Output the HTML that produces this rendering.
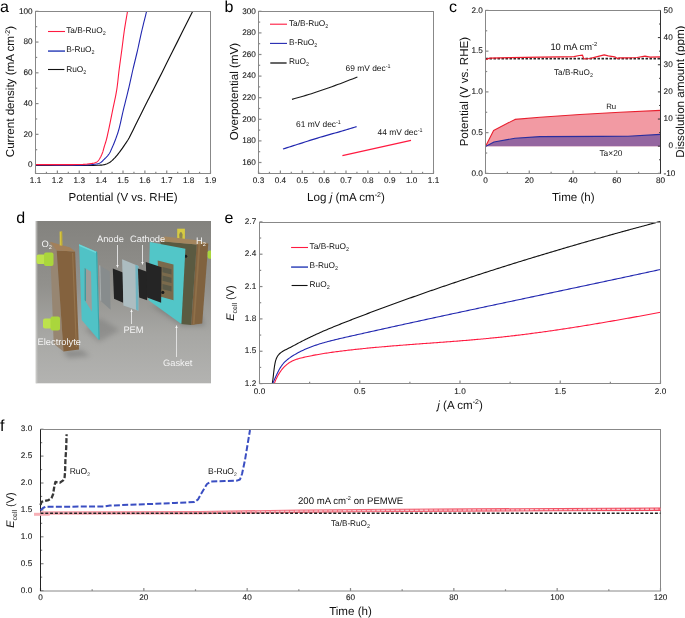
<!DOCTYPE html><html><head><meta charset="utf-8"><style>html,body{margin:0;padding:0;background:#fff;}svg{display:block;will-change:transform}</style></head><body>
<svg width="685" height="618" viewBox="0 0 685 618" text-rendering="geometricPrecision" font-family='"Liberation Sans", sans-serif'>
<rect width="685" height="618" fill="#fff"/>
<text x="0.1" y="12" font-size="16" text-anchor="start" fill="#000" >a</text>
<line x1="35.5" y1="173.5" x2="35.5" y2="170.5" stroke="#888888" stroke-width="1.2" />
<line x1="57.37" y1="173.5" x2="57.37" y2="170.5" stroke="#888888" stroke-width="1.2" />
<line x1="79.25" y1="173.5" x2="79.25" y2="170.5" stroke="#888888" stroke-width="1.2" />
<line x1="101.12" y1="173.5" x2="101.12" y2="170.5" stroke="#888888" stroke-width="1.2" />
<line x1="123" y1="173.5" x2="123" y2="170.5" stroke="#888888" stroke-width="1.2" />
<line x1="144.88" y1="173.5" x2="144.88" y2="170.5" stroke="#888888" stroke-width="1.2" />
<line x1="166.75" y1="173.5" x2="166.75" y2="170.5" stroke="#888888" stroke-width="1.2" />
<line x1="188.62" y1="173.5" x2="188.62" y2="170.5" stroke="#888888" stroke-width="1.2" />
<line x1="210.5" y1="173.5" x2="210.5" y2="170.5" stroke="#888888" stroke-width="1.2" />
<line x1="46.44" y1="173.5" x2="46.44" y2="171.8" stroke="#888888" stroke-width="1.2" />
<line x1="68.31" y1="173.5" x2="68.31" y2="171.8" stroke="#888888" stroke-width="1.2" />
<line x1="90.19" y1="173.5" x2="90.19" y2="171.8" stroke="#888888" stroke-width="1.2" />
<line x1="112.06" y1="173.5" x2="112.06" y2="171.8" stroke="#888888" stroke-width="1.2" />
<line x1="133.94" y1="173.5" x2="133.94" y2="171.8" stroke="#888888" stroke-width="1.2" />
<line x1="155.81" y1="173.5" x2="155.81" y2="171.8" stroke="#888888" stroke-width="1.2" />
<line x1="177.69" y1="173.5" x2="177.69" y2="171.8" stroke="#888888" stroke-width="1.2" />
<line x1="199.56" y1="173.5" x2="199.56" y2="171.8" stroke="#888888" stroke-width="1.2" />
<line x1="35.5" y1="165.1" x2="38.5" y2="165.1" stroke="#888888" stroke-width="1.2" />
<line x1="35.5" y1="134.34" x2="38.5" y2="134.34" stroke="#888888" stroke-width="1.2" />
<line x1="35.5" y1="103.58" x2="38.5" y2="103.58" stroke="#888888" stroke-width="1.2" />
<line x1="35.5" y1="72.82" x2="38.5" y2="72.82" stroke="#888888" stroke-width="1.2" />
<line x1="35.5" y1="42.06" x2="38.5" y2="42.06" stroke="#888888" stroke-width="1.2" />
<line x1="35.5" y1="11.3" x2="38.5" y2="11.3" stroke="#888888" stroke-width="1.2" />
<line x1="35.5" y1="149.72" x2="37.2" y2="149.72" stroke="#888888" stroke-width="1.2" />
<line x1="35.5" y1="118.96" x2="37.2" y2="118.96" stroke="#888888" stroke-width="1.2" />
<line x1="35.5" y1="88.2" x2="37.2" y2="88.2" stroke="#888888" stroke-width="1.2" />
<line x1="35.5" y1="57.44" x2="37.2" y2="57.44" stroke="#888888" stroke-width="1.2" />
<line x1="35.5" y1="26.68" x2="37.2" y2="26.68" stroke="#888888" stroke-width="1.2" />
<text x="35.5" y="182.6" font-size="8.2" text-anchor="middle" fill="#111" stroke="#333" stroke-width="0.1">1.1</text>
<text x="57.37" y="182.6" font-size="8.2" text-anchor="middle" fill="#111" stroke="#333" stroke-width="0.1">1.2</text>
<text x="79.25" y="182.6" font-size="8.2" text-anchor="middle" fill="#111" stroke="#333" stroke-width="0.1">1.3</text>
<text x="101.12" y="182.6" font-size="8.2" text-anchor="middle" fill="#111" stroke="#333" stroke-width="0.1">1.4</text>
<text x="123" y="182.6" font-size="8.2" text-anchor="middle" fill="#111" stroke="#333" stroke-width="0.1">1.5</text>
<text x="144.88" y="182.6" font-size="8.2" text-anchor="middle" fill="#111" stroke="#333" stroke-width="0.1">1.6</text>
<text x="166.75" y="182.6" font-size="8.2" text-anchor="middle" fill="#111" stroke="#333" stroke-width="0.1">1.7</text>
<text x="188.62" y="182.6" font-size="8.2" text-anchor="middle" fill="#111" stroke="#333" stroke-width="0.1">1.8</text>
<text x="210.5" y="182.6" font-size="8.2" text-anchor="middle" fill="#111" stroke="#333" stroke-width="0.1">1.9</text>
<text x="32.6" y="167.3" font-size="8.2" text-anchor="end" fill="#111" stroke="#333" stroke-width="0.1">0</text>
<text x="32.6" y="136.54" font-size="8.2" text-anchor="end" fill="#111" stroke="#333" stroke-width="0.1">20</text>
<text x="32.6" y="105.78" font-size="8.2" text-anchor="end" fill="#111" stroke="#333" stroke-width="0.1">40</text>
<text x="32.6" y="75.02" font-size="8.2" text-anchor="end" fill="#111" stroke="#333" stroke-width="0.1">60</text>
<text x="32.6" y="44.26" font-size="8.2" text-anchor="end" fill="#111" stroke="#333" stroke-width="0.1">80</text>
<text x="32.6" y="13.5" font-size="8.2" text-anchor="end" fill="#111" stroke="#333" stroke-width="0.1">100</text>
<text x="123" y="201.1" font-size="11.6" text-anchor="middle" fill="#111" textLength="109" lengthAdjust="spacingAndGlyphs">Potential (V vs. RHE)</text>
<text transform="translate(14.2,91.6) rotate(-90)" font-size="11.6" text-anchor="middle" fill="#111">Current density (mA cm<tspan font-size="7" dy="-4.5">-2</tspan><tspan dy="4.5">)</tspan></text>
<line x1="48" y1="31.5" x2="65" y2="31.5" stroke="#ff1a40" stroke-width="1.1" />
<line x1="48" y1="51.1" x2="65" y2="51.1" stroke="#5565c6" stroke-width="1.8" />
<line x1="48" y1="69.5" x2="64.4" y2="69.5" stroke="#111" stroke-width="1.1" />
<text x="66.2" y="32.9" font-size="8.3" text-anchor="start" fill="#111" >Ta/B-RuO<tspan font-size="5.4" dy="2">2</tspan></text>
<text x="66.2" y="52.4" font-size="8.3" text-anchor="start" fill="#111" >B-RuO<tspan font-size="5.4" dy="2">2</tspan></text>
<text x="66.2" y="71.6" font-size="8.3" text-anchor="start" fill="#111" >RuO<tspan font-size="5.4" dy="2">2</tspan></text>
<g clip-path="url(#clipa)">
<polyline points="36,165.3 44.17,165.32 52.96,165.38 61.99,165.44 70.9,165.5 79.32,165.54 86.87,165.53 93.19,165.46 97.9,165.3 99.04,165.24 100.02,165.19 100.87,165.14 101.63,165.08 102.32,165 103,164.9 103.68,164.77 104.4,164.6 105.09,164.41 105.77,164.2 106.43,163.97 107.08,163.71 107.72,163.43 108.35,163.11 108.98,162.77 109.6,162.4 110.28,161.94 110.95,161.44 111.6,160.91 112.25,160.33 112.89,159.73 113.52,159.11 114.16,158.46 114.8,157.8 115.54,157 116.29,156.15 117.04,155.27 117.79,154.35 118.52,153.42 119.24,152.5 119.93,151.58 120.6,150.7 121.17,149.92 121.73,149.14 122.27,148.37 122.79,147.6 123.3,146.84 123.81,146.08 124.3,145.34 124.8,144.6 125.24,143.97 125.65,143.38 126.05,142.82 126.45,142.25 126.85,141.66 127.27,141.02 127.72,140.31 128.2,139.5 129.22,137.67 130.36,135.49 131.6,133.05 132.89,130.44 134.2,127.74 135.52,125.04 136.79,122.43 138,120 139.04,117.93 140.05,115.9 141.04,113.9 142.03,111.93 143.01,109.96 143.99,107.99 144.99,106.01 146,104 147.03,101.98 148,100.07 148.97,98.2 149.95,96.29 150.98,94.29 152.09,92.12 153.32,89.71 154.7,87 158.17,80.13 162.31,71.9 166.97,62.6 171.99,52.57 177.22,42.12 182.5,31.57 187.68,21.22 192.6,11.4" fill="none" stroke="#111" stroke-width="1.15" stroke-linejoin="round" />
<polyline points="36,165 42.38,165.01 49.13,165.05 56.03,165.1 62.85,165.14 69.38,165.16 75.4,165.15 80.68,165.1 85,165 86.59,164.94 88.02,164.88 89.32,164.82 90.51,164.75 91.62,164.67 92.67,164.57 93.69,164.45 94.7,164.3 95.44,164.19 96.14,164.08 96.81,163.96 97.46,163.84 98.09,163.69 98.7,163.5 99.31,163.28 99.9,163 100.51,162.64 101.1,162.23 101.67,161.76 102.23,161.26 102.77,160.74 103.31,160.19 103.85,159.64 104.4,159.1 105,158.52 105.6,157.92 106.21,157.31 106.81,156.68 107.39,156.04 107.96,155.38 108.5,154.7 109,154 109.48,153.25 109.91,152.48 110.32,151.69 110.71,150.87 111.08,150.05 111.45,149.2 111.82,148.35 112.2,147.5 112.61,146.57 113.02,145.63 113.43,144.68 113.83,143.71 114.23,142.73 114.62,141.74 115.01,140.73 115.4,139.7 115.82,138.57 116.24,137.45 116.65,136.31 117.06,135.16 117.47,133.97 117.88,132.72 118.29,131.4 118.7,130 119.3,127.8 119.89,125.39 120.49,122.82 121.09,120.15 121.69,117.42 122.29,114.69 122.89,112 123.5,109.4 124.1,106.95 124.7,104.51 125.31,102.1 125.91,99.68 126.52,97.27 127.12,94.86 127.72,92.44 128.3,90 128.88,87.52 129.44,85.02 130,82.52 130.55,80.02 131.11,77.51 131.66,75.01 132.23,72.5 132.8,70 133.39,67.5 133.99,65 134.6,62.5 135.21,60 135.82,57.5 136.42,55 137.02,52.5 137.6,50 138.17,47.5 138.72,44.98 139.26,42.47 139.8,39.95 140.34,37.44 140.88,34.95 141.44,32.46 142,30 142.56,27.64 143.13,25.3 143.7,22.97 144.28,20.65 144.86,18.34 145.44,16.03 146.02,13.72 146.6,11.4" fill="none" stroke="#2228b0" stroke-width="1.1" stroke-linejoin="round" />
<polyline points="36,164.6 41.8,164.59 48.02,164.59 54.42,164.59 60.73,164.6 66.7,164.59 72.07,164.58 76.59,164.55 80,164.5 80.86,164.48 81.6,164.46 82.23,164.45 82.8,164.43 83.34,164.41 83.86,164.38 84.4,164.34 85,164.3 85.65,164.25 86.3,164.18 86.96,164.12 87.62,164.04 88.28,163.96 88.93,163.88 89.57,163.79 90.2,163.7 90.79,163.62 91.37,163.55 91.96,163.47 92.53,163.39 93.1,163.3 93.65,163.2 94.19,163.06 94.7,162.9 95.14,162.73 95.58,162.56 95.99,162.37 96.4,162.16 96.8,161.93 97.18,161.68 97.55,161.41 97.9,161.1 98.28,160.71 98.64,160.28 98.98,159.8 99.31,159.3 99.62,158.78 99.92,158.26 100.21,157.72 100.5,157.2 100.78,156.67 101.06,156.13 101.31,155.59 101.56,155.04 101.81,154.48 102.04,153.9 102.27,153.31 102.5,152.7 102.76,151.95 103.01,151.17 103.24,150.36 103.47,149.53 103.7,148.69 103.93,147.85 104.16,147.02 104.4,146.2 104.65,145.4 104.9,144.61 105.15,143.82 105.4,143.04 105.66,142.24 105.91,141.42 106.16,140.58 106.4,139.7 106.68,138.61 106.95,137.5 107.22,136.37 107.48,135.2 107.74,133.99 108.02,132.73 108.3,131.4 108.6,130 109.07,127.79 109.57,125.38 110.1,122.81 110.64,120.14 111.19,117.42 111.74,114.69 112.28,112 112.8,109.4 113.31,106.95 113.82,104.52 114.34,102.1 114.86,99.69 115.36,97.28 115.84,94.87 116.29,92.44 116.7,90 117.07,87.52 117.4,85.03 117.7,82.53 117.98,80.03 118.25,77.52 118.52,75.01 118.8,72.5 119.1,70 119.42,67.5 119.76,65 120.1,62.5 120.44,60 120.78,57.5 121.12,55 121.47,52.5 121.8,50 122.13,47.5 122.44,44.98 122.76,42.47 123.07,39.95 123.38,37.44 123.71,34.95 124.05,32.46 124.4,30 124.76,27.64 125.13,25.3 125.52,22.97 125.91,20.65 126.31,18.34 126.71,16.03 127.11,13.72 127.5,11.4" fill="none" stroke="#ff1a40" stroke-width="1.1" stroke-linejoin="round" />
</g>
<clipPath id="clipa"><rect x="35.5" y="11.5" width="175.0" height="162.0"/></clipPath>
<rect x="35.5" y="11.5" width="175" height="162" fill="none" stroke="#888888" stroke-width="1"/>
<text x="224.5" y="12" font-size="16" text-anchor="start" fill="#000" >b</text>
<line x1="258.5" y1="173.5" x2="258.5" y2="170.5" stroke="#888888" stroke-width="1.2" />
<line x1="280.38" y1="173.5" x2="280.38" y2="170.5" stroke="#888888" stroke-width="1.2" />
<line x1="302.25" y1="173.5" x2="302.25" y2="170.5" stroke="#888888" stroke-width="1.2" />
<line x1="324.12" y1="173.5" x2="324.12" y2="170.5" stroke="#888888" stroke-width="1.2" />
<line x1="346" y1="173.5" x2="346" y2="170.5" stroke="#888888" stroke-width="1.2" />
<line x1="367.88" y1="173.5" x2="367.88" y2="170.5" stroke="#888888" stroke-width="1.2" />
<line x1="389.75" y1="173.5" x2="389.75" y2="170.5" stroke="#888888" stroke-width="1.2" />
<line x1="411.62" y1="173.5" x2="411.62" y2="170.5" stroke="#888888" stroke-width="1.2" />
<line x1="433.5" y1="173.5" x2="433.5" y2="170.5" stroke="#888888" stroke-width="1.2" />
<line x1="269.44" y1="173.5" x2="269.44" y2="171.8" stroke="#888888" stroke-width="1.2" />
<line x1="291.31" y1="173.5" x2="291.31" y2="171.8" stroke="#888888" stroke-width="1.2" />
<line x1="313.19" y1="173.5" x2="313.19" y2="171.8" stroke="#888888" stroke-width="1.2" />
<line x1="335.06" y1="173.5" x2="335.06" y2="171.8" stroke="#888888" stroke-width="1.2" />
<line x1="356.94" y1="173.5" x2="356.94" y2="171.8" stroke="#888888" stroke-width="1.2" />
<line x1="378.81" y1="173.5" x2="378.81" y2="171.8" stroke="#888888" stroke-width="1.2" />
<line x1="400.69" y1="173.5" x2="400.69" y2="171.8" stroke="#888888" stroke-width="1.2" />
<line x1="422.56" y1="173.5" x2="422.56" y2="171.8" stroke="#888888" stroke-width="1.2" />
<line x1="258.5" y1="162.5" x2="261.5" y2="162.5" stroke="#888888" stroke-width="1.2" />
<line x1="258.5" y1="140.9" x2="261.5" y2="140.9" stroke="#888888" stroke-width="1.2" />
<line x1="258.5" y1="119.3" x2="261.5" y2="119.3" stroke="#888888" stroke-width="1.2" />
<line x1="258.5" y1="97.7" x2="261.5" y2="97.7" stroke="#888888" stroke-width="1.2" />
<line x1="258.5" y1="76.1" x2="261.5" y2="76.1" stroke="#888888" stroke-width="1.2" />
<line x1="258.5" y1="54.5" x2="261.5" y2="54.5" stroke="#888888" stroke-width="1.2" />
<line x1="258.5" y1="32.9" x2="261.5" y2="32.9" stroke="#888888" stroke-width="1.2" />
<line x1="258.5" y1="11.3" x2="261.5" y2="11.3" stroke="#888888" stroke-width="1.2" />
<line x1="258.5" y1="173.3" x2="260.2" y2="173.3" stroke="#888888" stroke-width="1.2" />
<line x1="258.5" y1="151.7" x2="260.2" y2="151.7" stroke="#888888" stroke-width="1.2" />
<line x1="258.5" y1="130.1" x2="260.2" y2="130.1" stroke="#888888" stroke-width="1.2" />
<line x1="258.5" y1="108.5" x2="260.2" y2="108.5" stroke="#888888" stroke-width="1.2" />
<line x1="258.5" y1="86.9" x2="260.2" y2="86.9" stroke="#888888" stroke-width="1.2" />
<line x1="258.5" y1="65.3" x2="260.2" y2="65.3" stroke="#888888" stroke-width="1.2" />
<line x1="258.5" y1="43.7" x2="260.2" y2="43.7" stroke="#888888" stroke-width="1.2" />
<line x1="258.5" y1="22.1" x2="260.2" y2="22.1" stroke="#888888" stroke-width="1.2" />
<text x="258.5" y="182.6" font-size="8.2" text-anchor="middle" fill="#111" stroke="#333" stroke-width="0.1">0.3</text>
<text x="280.38" y="182.6" font-size="8.2" text-anchor="middle" fill="#111" stroke="#333" stroke-width="0.1">0.4</text>
<text x="302.25" y="182.6" font-size="8.2" text-anchor="middle" fill="#111" stroke="#333" stroke-width="0.1">0.5</text>
<text x="324.12" y="182.6" font-size="8.2" text-anchor="middle" fill="#111" stroke="#333" stroke-width="0.1">0.6</text>
<text x="346" y="182.6" font-size="8.2" text-anchor="middle" fill="#111" stroke="#333" stroke-width="0.1">0.7</text>
<text x="367.88" y="182.6" font-size="8.2" text-anchor="middle" fill="#111" stroke="#333" stroke-width="0.1">0.8</text>
<text x="389.75" y="182.6" font-size="8.2" text-anchor="middle" fill="#111" stroke="#333" stroke-width="0.1">0.9</text>
<text x="411.62" y="182.6" font-size="8.2" text-anchor="middle" fill="#111" stroke="#333" stroke-width="0.1">1.0</text>
<text x="433.5" y="182.6" font-size="8.2" text-anchor="middle" fill="#111" stroke="#333" stroke-width="0.1">1.1</text>
<text x="255.8" y="164.7" font-size="8.2" text-anchor="end" fill="#111" stroke="#333" stroke-width="0.1">160</text>
<text x="255.8" y="143.1" font-size="8.2" text-anchor="end" fill="#111" stroke="#333" stroke-width="0.1">180</text>
<text x="255.8" y="121.5" font-size="8.2" text-anchor="end" fill="#111" stroke="#333" stroke-width="0.1">200</text>
<text x="255.8" y="99.9" font-size="8.2" text-anchor="end" fill="#111" stroke="#333" stroke-width="0.1">220</text>
<text x="255.8" y="78.3" font-size="8.2" text-anchor="end" fill="#111" stroke="#333" stroke-width="0.1">240</text>
<text x="255.8" y="56.7" font-size="8.2" text-anchor="end" fill="#111" stroke="#333" stroke-width="0.1">260</text>
<text x="255.8" y="35.1" font-size="8.2" text-anchor="end" fill="#111" stroke="#333" stroke-width="0.1">280</text>
<text x="255.8" y="13.5" font-size="8.2" text-anchor="end" fill="#111" stroke="#333" stroke-width="0.1">300</text>
<text x="346" y="201.1" font-size="11.6" text-anchor="middle" fill="#111">Log <tspan font-style="italic">j</tspan> (mA cm<tspan font-size="7" dy="-4.5">-2</tspan><tspan dy="4.5">)</tspan></text>
<text transform="translate(238.4,91.6) rotate(-90)" font-size="11.6" text-anchor="middle" fill="#111">Overpotential (mV)</text>
<line x1="270" y1="24.2" x2="287" y2="24.2" stroke="#ff1a40" stroke-width="1.1" />
<line x1="270" y1="43.4" x2="287" y2="43.4" stroke="#2228b0" stroke-width="1.1" />
<line x1="270.3" y1="63" x2="286.6" y2="63" stroke="#555" stroke-width="1.8" />
<text x="288.9" y="25.5" font-size="8.3" text-anchor="start" fill="#111" >Ta/B-RuO<tspan font-size="5.4" dy="2">2</tspan></text>
<text x="288.9" y="44.8" font-size="8.3" text-anchor="start" fill="#111" >B-RuO<tspan font-size="5.4" dy="2">2</tspan></text>
<text x="288.9" y="64.1" font-size="8.3" text-anchor="start" fill="#111" >RuO<tspan font-size="5.4" dy="2">2</tspan></text>
<polyline points="292,99.4 294.77,98.58 297.54,97.78 300.31,96.98 303.07,96.18 305.85,95.37 308.62,94.54 311.41,93.69 314.2,92.8 317.12,91.84 320.07,90.85 323.03,89.83 326,88.79 328.96,87.74 331.89,86.68 334.77,85.64 337.6,84.6 340.16,83.65 342.67,82.7 345.15,81.75 347.61,80.8 350.05,79.85 352.49,78.9 354.94,77.95 357.4,77" fill="none" stroke="#1a1a1a" stroke-width="1.1" stroke-linejoin="round" />
<polyline points="283,149 285.12,148.33 287.22,147.66 289.31,146.99 291.41,146.32 293.52,145.65 295.65,144.98 297.81,144.29 300,143.6 302.42,142.83 304.88,142.04 307.38,141.25 309.89,140.44 312.42,139.64 314.96,138.85 317.48,138.06 320,137.3 322.51,136.56 325.04,135.83 327.58,135.11 330.11,134.4 332.64,133.7 335.13,133 337.59,132.3 340,131.6 342.15,130.97 344.26,130.34 346.34,129.71 348.4,129.09 350.44,128.47 352.49,127.85 354.54,127.22 356.6,126.6" fill="none" stroke="#2228b0" stroke-width="1.2" stroke-linejoin="round" />
<polyline points="342.4,155.6 411,140.4" fill="none" stroke="#ff1a40" stroke-width="1.2" stroke-linejoin="round" />
<text x="345.6" y="71.3" font-size="8.4" text-anchor="start" fill="#111" >69 mV dec<tspan font-size="5.4" dy="-3.2">-1</tspan></text>
<text x="296" y="127.4" font-size="8.4" text-anchor="start" fill="#111" >61 mV dec<tspan font-size="5.4" dy="-3.2">-1</tspan></text>
<text x="377.6" y="135" font-size="8.4" text-anchor="start" fill="#111" >44 mV dec<tspan font-size="5.4" dy="-3.2">-1</tspan></text>
<rect x="258.5" y="11.5" width="175" height="162" fill="none" stroke="#888888" stroke-width="1"/>
<text x="449.1" y="12" font-size="16" text-anchor="start" fill="#000" >c</text>
<polygon points="485.5,146.4 493.6,130.4 515,119.4 540,117.2 580,114.5 620,112.2 660.5,110.4 660.5,146.2 485.5,146.2" fill="#f29aa3" />
<polygon points="485.5,146.4 494,142 515,138.2 540,136.6 600,136.4 628,136.3 660.5,134.4 660.5,146.2 485.5,146.2" fill="#9566a0" />
<polyline points="485.5,146.4 493.6,130.4 515,119.4 540,117.2 580,114.5 620,112.2 660.5,110.4" fill="none" stroke="#e8202f" stroke-width="1.1" stroke-linejoin="round" />
<polyline points="485.5,146.4 494,142 515,138.2 540,136.6 600,136.4 628,136.3 660.5,134.4" fill="none" stroke="#2b2e9e" stroke-width="1.1" stroke-linejoin="round" />
<line x1="485.5" y1="58.6" x2="660.5" y2="58.6" stroke="#2a2a2a" stroke-width="1.7" stroke-dasharray="2.5,1.5"/>
<polyline points="485.6,59.7 488,58.6 490,58.1 510,57.7 540.5,57.1 560,56.9 574,56.6 579.3,55.5 582.5,55.2 583.5,58.1 584.5,59 589.8,58.5 596.3,56.8 604.2,54.9 608.2,55.8 614.7,56.8 617.4,58.6 619.3,57.9 626.6,57.9 637,57.5 645,56.2 650.2,57.1 660.5,56.8" fill="none" stroke="#ee1c2e" stroke-width="1.2" stroke-linejoin="round" />
<line x1="485.5" y1="173.5" x2="485.5" y2="170.5" stroke="#888888" stroke-width="1.2" />
<line x1="529.25" y1="173.5" x2="529.25" y2="170.5" stroke="#888888" stroke-width="1.2" />
<line x1="573" y1="173.5" x2="573" y2="170.5" stroke="#888888" stroke-width="1.2" />
<line x1="616.75" y1="173.5" x2="616.75" y2="170.5" stroke="#888888" stroke-width="1.2" />
<line x1="660.5" y1="173.5" x2="660.5" y2="170.5" stroke="#888888" stroke-width="1.2" />
<line x1="507.38" y1="173.5" x2="507.38" y2="171.8" stroke="#888888" stroke-width="1.2" />
<line x1="551.12" y1="173.5" x2="551.12" y2="171.8" stroke="#888888" stroke-width="1.2" />
<line x1="594.88" y1="173.5" x2="594.88" y2="171.8" stroke="#888888" stroke-width="1.2" />
<line x1="638.62" y1="173.5" x2="638.62" y2="171.8" stroke="#888888" stroke-width="1.2" />
<line x1="485.5" y1="173.4" x2="488.5" y2="173.4" stroke="#888888" stroke-width="1.2" />
<line x1="485.5" y1="132.65" x2="488.5" y2="132.65" stroke="#888888" stroke-width="1.2" />
<line x1="485.5" y1="91.9" x2="488.5" y2="91.9" stroke="#888888" stroke-width="1.2" />
<line x1="485.5" y1="51.15" x2="488.5" y2="51.15" stroke="#888888" stroke-width="1.2" />
<line x1="485.5" y1="10.4" x2="488.5" y2="10.4" stroke="#888888" stroke-width="1.2" />
<line x1="485.5" y1="153.03" x2="487.2" y2="153.03" stroke="#888888" stroke-width="1.2" />
<line x1="485.5" y1="112.28" x2="487.2" y2="112.28" stroke="#888888" stroke-width="1.2" />
<line x1="485.5" y1="71.53" x2="487.2" y2="71.53" stroke="#888888" stroke-width="1.2" />
<line x1="485.5" y1="30.78" x2="487.2" y2="30.78" stroke="#888888" stroke-width="1.2" />
<line x1="660.5" y1="173.35" x2="657.9" y2="173.35" stroke="#333" stroke-width="1" />
<line x1="660.5" y1="146.2" x2="657.9" y2="146.2" stroke="#333" stroke-width="1" />
<line x1="660.5" y1="119.05" x2="657.9" y2="119.05" stroke="#333" stroke-width="1" />
<line x1="660.5" y1="91.9" x2="657.9" y2="91.9" stroke="#333" stroke-width="1" />
<line x1="660.5" y1="64.75" x2="657.9" y2="64.75" stroke="#333" stroke-width="1" />
<line x1="660.5" y1="37.6" x2="657.9" y2="37.6" stroke="#333" stroke-width="1" />
<line x1="660.5" y1="10.45" x2="657.9" y2="10.45" stroke="#333" stroke-width="1" />
<line x1="660.5" y1="159.77" x2="659.1" y2="159.77" stroke="#333" stroke-width="1" />
<line x1="660.5" y1="132.62" x2="659.1" y2="132.62" stroke="#333" stroke-width="1" />
<line x1="660.5" y1="105.47" x2="659.1" y2="105.47" stroke="#333" stroke-width="1" />
<line x1="660.5" y1="78.32" x2="659.1" y2="78.32" stroke="#333" stroke-width="1" />
<line x1="660.5" y1="51.17" x2="659.1" y2="51.17" stroke="#333" stroke-width="1" />
<line x1="660.5" y1="24.02" x2="659.1" y2="24.02" stroke="#333" stroke-width="1" />
<text x="485.5" y="182.6" font-size="8.2" text-anchor="middle" fill="#111" stroke="#333" stroke-width="0.1">0</text>
<text x="529.25" y="182.6" font-size="8.2" text-anchor="middle" fill="#111" stroke="#333" stroke-width="0.1">20</text>
<text x="573" y="182.6" font-size="8.2" text-anchor="middle" fill="#111" stroke="#333" stroke-width="0.1">40</text>
<text x="616.75" y="182.6" font-size="8.2" text-anchor="middle" fill="#111" stroke="#333" stroke-width="0.1">60</text>
<text x="660.5" y="182.6" font-size="8.2" text-anchor="middle" fill="#111" stroke="#333" stroke-width="0.1">80</text>
<text x="482.8" y="175.6" font-size="8.2" text-anchor="end" fill="#111" stroke="#333" stroke-width="0.1">0.0</text>
<text x="482.8" y="134.85" font-size="8.2" text-anchor="end" fill="#111" stroke="#333" stroke-width="0.1">0.5</text>
<text x="482.8" y="94.1" font-size="8.2" text-anchor="end" fill="#111" stroke="#333" stroke-width="0.1">1.0</text>
<text x="482.8" y="53.35" font-size="8.2" text-anchor="end" fill="#111" stroke="#333" stroke-width="0.1">1.5</text>
<text x="482.8" y="12.6" font-size="8.2" text-anchor="end" fill="#111" stroke="#333" stroke-width="0.1">2.0</text>
<text x="663.6" y="175.55" font-size="8.2" text-anchor="start" fill="#111" stroke="#333" stroke-width="0.1">-10</text>
<text x="668.6" y="148.4" font-size="8.2" text-anchor="start" fill="#111" stroke="#333" stroke-width="0.1">0</text>
<text x="663.6" y="121.25" font-size="8.2" text-anchor="start" fill="#111" stroke="#333" stroke-width="0.1">10</text>
<text x="663.6" y="94.1" font-size="8.2" text-anchor="start" fill="#111" stroke="#333" stroke-width="0.1">20</text>
<text x="663.6" y="66.95" font-size="8.2" text-anchor="start" fill="#111" stroke="#333" stroke-width="0.1">30</text>
<text x="663.6" y="39.8" font-size="8.2" text-anchor="start" fill="#111" stroke="#333" stroke-width="0.1">40</text>
<text x="663.6" y="12.65" font-size="8.2" text-anchor="start" fill="#111" stroke="#333" stroke-width="0.1">50</text>
<rect x="485.5" y="10.5" width="175.0" height="163.0" fill="none" stroke="#888888" stroke-width="1"/>
<line x1="660.5" y1="10.5" x2="660.5" y2="173.5" stroke="#333" stroke-width="1" />
<text x="573.3" y="201.1" font-size="11.6" text-anchor="middle" fill="#111" >Time (h)</text>
<text transform="translate(468.4,91.6) rotate(-90)" font-size="11.6" text-anchor="middle" fill="#111">Potential (V vs. RHE)</text>
<text transform="translate(683.6,91.6) rotate(-90)" font-size="11.6" text-anchor="middle" fill="#111">Dissolution amount (ppm)</text>
<text x="550.4" y="49.8" font-size="9.4" text-anchor="start" fill="#111" >10 mA cm<tspan font-size="5.8" dy="-3.5">-2</tspan></text>
<text x="554" y="75.2" font-size="8.2" text-anchor="start" fill="#111" >Ta/B-RuO<tspan font-size="5.4" dy="2">2</tspan></text>
<text x="606.2" y="108.8" font-size="7.8" text-anchor="start" fill="#111" >Ru</text>
<text x="599.4" y="155.8" font-size="8.4" text-anchor="start" fill="#111" >Ta×20</text>
<text x="224.4" y="222.7" font-size="16" text-anchor="start" fill="#000" >e</text>
<line x1="259.5" y1="383.5" x2="259.5" y2="380.5" stroke="#888888" stroke-width="1.2" />
<line x1="359.75" y1="383.5" x2="359.75" y2="380.5" stroke="#888888" stroke-width="1.2" />
<line x1="460" y1="383.5" x2="460" y2="380.5" stroke="#888888" stroke-width="1.2" />
<line x1="560.25" y1="383.5" x2="560.25" y2="380.5" stroke="#888888" stroke-width="1.2" />
<line x1="660.5" y1="383.5" x2="660.5" y2="380.5" stroke="#888888" stroke-width="1.2" />
<line x1="309.62" y1="383.5" x2="309.62" y2="381.8" stroke="#888888" stroke-width="1.2" />
<line x1="409.88" y1="383.5" x2="409.88" y2="381.8" stroke="#888888" stroke-width="1.2" />
<line x1="510.12" y1="383.5" x2="510.12" y2="381.8" stroke="#888888" stroke-width="1.2" />
<line x1="610.38" y1="383.5" x2="610.38" y2="381.8" stroke="#888888" stroke-width="1.2" />
<line x1="259.5" y1="383.6" x2="262.5" y2="383.6" stroke="#888888" stroke-width="1.2" />
<line x1="259.5" y1="351.25" x2="262.5" y2="351.25" stroke="#888888" stroke-width="1.2" />
<line x1="259.5" y1="318.9" x2="262.5" y2="318.9" stroke="#888888" stroke-width="1.2" />
<line x1="259.5" y1="286.55" x2="262.5" y2="286.55" stroke="#888888" stroke-width="1.2" />
<line x1="259.5" y1="254.2" x2="262.5" y2="254.2" stroke="#888888" stroke-width="1.2" />
<line x1="259.5" y1="221.85" x2="262.5" y2="221.85" stroke="#888888" stroke-width="1.2" />
<line x1="259.5" y1="367.43" x2="261.2" y2="367.43" stroke="#888888" stroke-width="1.2" />
<line x1="259.5" y1="335.08" x2="261.2" y2="335.08" stroke="#888888" stroke-width="1.2" />
<line x1="259.5" y1="302.73" x2="261.2" y2="302.73" stroke="#888888" stroke-width="1.2" />
<line x1="259.5" y1="270.38" x2="261.2" y2="270.38" stroke="#888888" stroke-width="1.2" />
<line x1="259.5" y1="238.03" x2="261.2" y2="238.03" stroke="#888888" stroke-width="1.2" />
<text x="259.5" y="394.2" font-size="8.2" text-anchor="middle" fill="#111" stroke="#333" stroke-width="0.1">0.0</text>
<text x="359.75" y="394.2" font-size="8.2" text-anchor="middle" fill="#111" stroke="#333" stroke-width="0.1">0.5</text>
<text x="460" y="394.2" font-size="8.2" text-anchor="middle" fill="#111" stroke="#333" stroke-width="0.1">1.0</text>
<text x="560.25" y="394.2" font-size="8.2" text-anchor="middle" fill="#111" stroke="#333" stroke-width="0.1">1.5</text>
<text x="660.5" y="394.2" font-size="8.2" text-anchor="middle" fill="#111" stroke="#333" stroke-width="0.1">2.0</text>
<text x="256.2" y="385.8" font-size="8.2" text-anchor="end" fill="#111" stroke="#333" stroke-width="0.1">1.2</text>
<text x="256.2" y="353.45" font-size="8.2" text-anchor="end" fill="#111" stroke="#333" stroke-width="0.1">1.5</text>
<text x="256.2" y="321.1" font-size="8.2" text-anchor="end" fill="#111" stroke="#333" stroke-width="0.1">1.8</text>
<text x="256.2" y="288.75" font-size="8.2" text-anchor="end" fill="#111" stroke="#333" stroke-width="0.1">2.1</text>
<text x="256.2" y="256.4" font-size="8.2" text-anchor="end" fill="#111" stroke="#333" stroke-width="0.1">2.4</text>
<text x="256.2" y="224.05" font-size="8.2" text-anchor="end" fill="#111" stroke="#333" stroke-width="0.1">2.7</text>
<text x="460" y="408.6" font-size="11.6" text-anchor="middle" fill="#111"><tspan font-style="italic">j</tspan> (A cm<tspan font-size="7" dy="-4.5">-2</tspan><tspan dy="4.5">)</tspan></text>
<text transform="translate(234.2,303) rotate(-90)" font-size="11" text-anchor="middle" fill="#111"><tspan font-style="italic">E</tspan><tspan font-size="7" dy="2.6">cell</tspan><tspan dy="-2.6"> (V)</tspan></text>
<line x1="291.1" y1="247.5" x2="308" y2="247.5" stroke="#ff1a40" stroke-width="1.1" />
<line x1="291.1" y1="267.1" x2="308" y2="267.1" stroke="#5565c6" stroke-width="1.8" />
<line x1="291.6" y1="285.5" x2="307.6" y2="285.5" stroke="#111" stroke-width="1.1" />
<text x="309.6" y="248.7" font-size="8.3" text-anchor="start" fill="#111" >Ta/B-RuO<tspan font-size="5.4" dy="2">2</tspan></text>
<text x="309.6" y="268.2" font-size="8.3" text-anchor="start" fill="#111" >B-RuO<tspan font-size="5.4" dy="2">2</tspan></text>
<text x="309.6" y="287.2" font-size="8.3" text-anchor="start" fill="#111" >RuO<tspan font-size="5.4" dy="2">2</tspan></text>
<polyline points="272.29,383.6 272.53,382.15 272.74,380.7 272.93,379.26 273.11,377.82 273.27,376.38 273.43,374.94 273.59,373.5 273.75,372.06 273.92,370.62 274.1,369.17 274.29,367.71 274.5,366.25 274.74,364.79 275.01,363.32 275.33,361.87 275.71,360.45 276.17,359.07 276.71,357.75 277.37,356.49 278.14,355.32 279.04,354.24 280.08,353.27 281.21,352.37 282.43,351.55 283.69,350.8 285,350.08 286.32,349.4 287.65,348.74 288.99,348.09 290.31,347.42 291.61,346.74 292.9,346.06 294.19,345.37 295.46,344.67 296.74,343.98 298.02,343.3 299.3,342.62 300.59,341.95 301.87,341.28 303.17,340.62 304.46,339.97 305.76,339.32 307.06,338.68 308.36,338.04 309.67,337.41 310.98,336.78 312.29,336.16 313.6,335.55 314.92,334.94 316.24,334.33 317.56,333.73 318.88,333.14 320.21,332.54 321.54,331.96 322.87,331.37 324.2,330.8 325.53,330.22 326.87,329.65 328.21,329.08 329.55,328.52 330.89,327.96 332.23,327.4 333.57,326.85 334.92,326.3 336.27,325.75 337.62,325.2 338.97,324.66 340.32,324.12 341.67,323.58 343.02,323.04 344.38,322.51 345.73,321.98 347.09,321.45 348.44,320.92 349.8,320.39 351.16,319.87 352.51,319.34 353.87,318.82 355.23,318.3 356.59,317.78 357.95,317.25 359.31,316.73 360.67,316.22 362.03,315.7 363.39,315.18 364.75,314.66 366.12,314.15 367.48,313.63 368.84,313.12 370.2,312.61 371.57,312.1 372.93,311.58 374.29,311.07 375.66,310.56 377.02,310.06 378.38,309.55 379.75,309.04 381.11,308.53 382.48,308.03 383.85,307.52 385.21,307.02 386.58,306.52 387.94,306.02 389.31,305.51 390.68,305.01 392.05,304.51 393.41,304.02 394.78,303.52 396.15,303.02 397.52,302.52 398.89,302.03 400.26,301.53 401.63,301.04 403,300.55 404.37,300.05 405.74,299.56 407.11,299.07 408.48,298.58 409.85,298.09 411.22,297.61 412.59,297.12 413.97,296.63 415.34,296.15 416.71,295.66 418.08,295.18 419.46,294.69 420.83,294.21 422.2,293.73 423.58,293.25 424.95,292.77 426.33,292.29 427.7,291.81 429.08,291.33 430.45,290.85 431.83,290.38 433.2,289.9 434.58,289.43 435.96,288.95 437.33,288.48 438.71,288.01 440.09,287.53 441.47,287.06 442.84,286.59 444.22,286.12 445.6,285.65 446.98,285.19 448.36,284.72 449.74,284.25 451.12,283.79 452.5,283.32 453.88,282.86 455.26,282.39 456.64,281.93 458.02,281.47 459.4,281.01 460.78,280.55 462.16,280.09 463.55,279.63 464.93,279.17 466.31,278.71 467.69,278.25 469.08,277.8 470.46,277.34 471.84,276.89 473.23,276.43 474.61,275.98 475.99,275.53 477.38,275.07 478.76,274.62 480.15,274.17 481.53,273.72 482.92,273.27 484.3,272.82 485.69,272.38 487.07,271.93 488.46,271.48 489.85,271.04 491.23,270.59 492.62,270.15 494.01,269.71 495.4,269.26 496.78,268.82 498.17,268.38 499.56,267.94 500.95,267.5 502.34,267.06 503.72,266.62 505.11,266.18 506.5,265.74 507.89,265.31 509.28,264.87 510.67,264.44 512.06,264 513.45,263.57 514.84,263.14 516.23,262.7 517.62,262.27 519.02,261.84 520.41,261.41 521.8,260.98 523.19,260.55 524.58,260.12 525.98,259.69 527.37,259.27 528.76,258.84 530.15,258.41 531.55,257.99 532.94,257.56 534.33,257.14 535.73,256.72 537.12,256.29 538.52,255.87 539.91,255.45 541.3,255.03 542.7,254.61 544.09,254.19 545.49,253.77 546.88,253.35 548.28,252.93 549.68,252.52 551.07,252.1 552.47,251.68 553.86,251.27 555.26,250.85 556.66,250.44 558.05,250.03 559.45,249.61 560.85,249.2 562.25,248.79 563.64,248.38 565.04,247.97 566.44,247.56 567.84,247.15 569.24,246.74 570.63,246.33 572.03,245.93 573.43,245.52 574.83,245.11 576.23,244.71 577.63,244.3 579.03,243.9 580.43,243.5 581.83,243.09 583.23,242.69 584.63,242.29 586.03,241.89 587.43,241.49 588.83,241.09 590.23,240.69 591.63,240.29 593.04,239.89 594.44,239.49 595.84,239.09 597.24,238.7 598.64,238.3 600.04,237.91 601.45,237.51 602.85,237.12 604.25,236.72 605.65,236.33 607.06,235.94 608.46,235.54 609.86,235.15 611.27,234.76 612.67,234.37 614.07,233.98 615.48,233.59 616.88,233.2 618.29,232.81 619.69,232.43 621.1,232.04 622.5,231.65 623.91,231.27 625.31,230.88 626.72,230.49 628.12,230.11 629.53,229.73 630.93,229.34 632.34,228.96 633.74,228.58 635.15,228.19 636.55,227.81 637.96,227.43 639.37,227.05 640.77,226.67 642.18,226.29 643.59,225.91 644.99,225.54 646.4,225.16 647.81,224.78 649.22,224.4 650.62,224.03 652.03,223.65 653.44,223.28 654.85,222.9 656.25,222.53 657.66,222.15 659.07,221.78 660.48,221.41" fill="none" stroke="#111" stroke-width="1.1" stroke-linejoin="round" />
<polyline points="272.69,383.59 273.26,382.35 273.81,381.1 274.37,379.84 274.92,378.58 275.48,377.31 276.05,376.04 276.62,374.77 277.22,373.5 277.83,372.25 278.46,371 279.11,369.77 279.8,368.55 280.51,367.36 281.27,366.2 282.07,365.08 282.92,364 283.82,362.96 284.77,361.97 285.76,361.03 286.79,360.12 287.86,359.24 288.95,358.41 290.08,357.6 291.22,356.82 292.38,356.06 293.55,355.33 294.74,354.62 295.93,353.93 297.13,353.25 298.34,352.6 299.56,351.96 300.78,351.34 302.01,350.74 303.25,350.16 304.5,349.59 305.75,349.03 307.01,348.49 308.28,347.97 309.55,347.46 310.83,346.97 312.11,346.49 313.4,346.02 314.7,345.56 316,345.11 317.3,344.68 318.61,344.26 319.92,343.85 321.24,343.44 322.57,343.05 323.89,342.66 325.22,342.29 326.55,341.92 327.89,341.56 329.23,341.21 330.57,340.86 331.92,340.52 333.26,340.18 334.61,339.85 335.96,339.53 337.31,339.21 338.67,338.89 340.02,338.57 341.38,338.26 342.73,337.95 344.09,337.64 345.45,337.33 346.8,337.03 348.16,336.72 349.52,336.41 350.87,336.11 352.23,335.8 353.59,335.49 354.94,335.19 356.3,334.88 357.66,334.58 359.01,334.28 360.37,333.97 361.72,333.67 363.08,333.36 364.43,333.06 365.79,332.76 367.14,332.46 368.5,332.15 369.85,331.85 371.21,331.55 372.56,331.25 373.92,330.95 375.27,330.64 376.63,330.34 377.98,330.04 379.34,329.74 380.69,329.44 382.05,329.14 383.4,328.84 384.75,328.54 386.11,328.24 387.46,327.95 388.82,327.65 390.17,327.35 391.52,327.05 392.88,326.75 394.23,326.45 395.58,326.16 396.94,325.86 398.29,325.56 399.64,325.27 401,324.97 402.35,324.67 403.7,324.38 405.06,324.08 406.41,323.78 407.76,323.49 409.11,323.19 410.47,322.9 411.82,322.6 413.17,322.31 414.52,322.01 415.88,321.72 417.23,321.42 418.58,321.13 419.93,320.84 421.28,320.54 422.64,320.25 423.99,319.96 425.34,319.66 426.69,319.37 428.04,319.08 429.39,318.78 430.75,318.49 432.1,318.2 433.45,317.91 434.8,317.61 436.15,317.32 437.5,317.03 438.85,316.74 440.21,316.45 441.56,316.16 442.91,315.87 444.26,315.57 445.61,315.28 446.96,314.99 448.31,314.7 449.66,314.41 451.01,314.12 452.37,313.83 453.72,313.54 455.07,313.25 456.42,312.96 457.77,312.67 459.12,312.38 460.47,312.09 461.82,311.8 463.17,311.52 464.52,311.23 465.87,310.94 467.22,310.65 468.57,310.36 469.92,310.07 471.27,309.78 472.62,309.49 473.97,309.21 475.32,308.92 476.68,308.63 478.03,308.34 479.38,308.05 480.73,307.77 482.08,307.48 483.43,307.19 484.78,306.9 486.13,306.62 487.48,306.33 488.83,306.04 490.18,305.75 491.53,305.47 492.88,305.18 494.23,304.89 495.58,304.61 496.93,304.32 498.28,304.03 499.63,303.75 500.98,303.46 502.33,303.17 503.68,302.89 505.03,302.6 506.38,302.31 507.73,302.03 509.08,301.74 510.43,301.45 511.78,301.17 513.13,300.88 514.48,300.6 515.83,300.31 517.18,300.02 518.53,299.74 519.88,299.45 521.23,299.17 522.58,298.88 523.93,298.59 525.28,298.31 526.63,298.02 527.98,297.74 529.33,297.45 530.68,297.16 532.03,296.88 533.39,296.59 534.74,296.31 536.09,296.02 537.44,295.73 538.79,295.45 540.14,295.16 541.49,294.88 542.84,294.59 544.19,294.31 545.54,294.02 546.89,293.73 548.24,293.45 549.59,293.16 550.94,292.88 552.29,292.59 553.65,292.3 555,292.02 556.35,291.73 557.7,291.45 559.05,291.16 560.4,290.87 561.75,290.59 563.1,290.3 564.45,290.01 565.81,289.73 567.16,289.44 568.51,289.16 569.86,288.87 571.21,288.58 572.56,288.3 573.91,288.01 575.27,287.72 576.62,287.44 577.97,287.15 579.32,286.86 580.67,286.58 582.02,286.29 583.38,286 584.73,285.71 586.08,285.43 587.43,285.14 588.79,284.85 590.14,284.57 591.49,284.28 592.84,283.99 594.2,283.7 595.55,283.41 596.9,283.13 598.25,282.84 599.61,282.55 600.96,282.26 602.31,281.97 603.67,281.69 605.02,281.4 606.37,281.11 607.73,280.82 609.08,280.53 610.43,280.24 611.79,279.95 613.14,279.66 614.49,279.38 615.85,279.09 617.2,278.8 618.55,278.51 619.91,278.22 621.26,277.93 622.62,277.64 623.97,277.35 625.33,277.06 626.68,276.77 628.04,276.48 629.39,276.19 630.74,275.9 632.1,275.6 633.45,275.31 634.81,275.02 636.17,274.73 637.52,274.44 638.88,274.15 640.23,273.86 641.59,273.56 642.94,273.27 644.3,272.98 645.65,272.69 647.01,272.39 648.37,272.1 649.72,271.81 651.08,271.51 652.44,271.22 653.79,270.93 655.15,270.63 656.51,270.34 657.86,270.05 659.22,269.75 660.58,269.46" fill="none" stroke="#2228b0" stroke-width="1.1" stroke-linejoin="round" />
<polyline points="274.32,383.61 274.77,382.37 275.25,381.12 275.77,379.88 276.32,378.65 276.91,377.43 277.53,376.23 278.19,375.04 278.88,373.87 279.61,372.72 280.37,371.6 281.16,370.5 281.99,369.44 282.86,368.41 283.76,367.41 284.69,366.45 285.66,365.54 286.66,364.67 287.7,363.84 288.77,363.07 289.87,362.34 291.01,361.68 292.18,361.07 293.39,360.51 294.62,360 295.87,359.53 297.14,359.1 298.44,358.7 299.74,358.33 301.06,357.99 302.39,357.67 303.72,357.36 305.05,357.06 306.38,356.77 307.72,356.49 309.05,356.21 310.38,355.94 311.71,355.67 313.04,355.41 314.37,355.16 315.71,354.91 317.04,354.67 318.37,354.44 319.7,354.21 321.03,353.98 322.36,353.76 323.69,353.54 325.02,353.33 326.35,353.13 327.68,352.93 329.01,352.73 330.33,352.53 331.66,352.34 332.99,352.16 334.32,351.97 335.65,351.79 336.98,351.62 338.31,351.45 339.64,351.28 340.97,351.11 342.3,350.94 343.63,350.78 344.96,350.62 346.29,350.46 347.62,350.31 348.96,350.15 350.29,350 351.62,349.85 352.95,349.7 354.28,349.55 355.62,349.41 356.95,349.27 358.28,349.12 359.61,348.98 360.95,348.84 362.28,348.71 363.61,348.57 364.95,348.44 366.28,348.31 367.62,348.17 368.95,348.05 370.29,347.92 371.62,347.79 372.96,347.66 374.29,347.54 375.63,347.42 376.96,347.3 378.3,347.18 379.63,347.06 380.97,346.94 382.31,346.82 383.64,346.7 384.98,346.59 386.31,346.48 387.65,346.36 388.99,346.25 390.33,346.14 391.66,346.03 393,345.92 394.34,345.81 395.67,345.7 397.01,345.6 398.35,345.49 399.69,345.38 401.02,345.28 402.36,345.18 403.7,345.07 405.04,344.97 406.38,344.87 407.72,344.76 409.05,344.66 410.39,344.56 411.73,344.46 413.07,344.36 414.41,344.26 415.75,344.16 417.09,344.06 418.42,343.96 419.76,343.87 421.1,343.77 422.44,343.67 423.78,343.57 425.12,343.47 426.46,343.37 427.8,343.28 429.14,343.18 430.47,343.08 431.81,342.98 433.15,342.89 434.49,342.79 435.83,342.69 437.17,342.59 438.51,342.49 439.85,342.39 441.19,342.3 442.53,342.2 443.86,342.1 445.2,342 446.54,341.9 447.88,341.8 449.22,341.69 450.56,341.59 451.9,341.49 453.24,341.39 454.58,341.28 455.91,341.18 457.25,341.08 458.59,340.97 459.93,340.87 461.27,340.76 462.61,340.65 463.94,340.54 465.28,340.43 466.62,340.33 467.96,340.21 469.3,340.1 470.63,339.99 471.97,339.88 473.31,339.76 474.65,339.65 475.98,339.53 477.32,339.41 478.66,339.3 480,339.18 481.33,339.05 482.67,338.93 484.01,338.81 485.34,338.68 486.68,338.56 488.01,338.43 489.35,338.3 490.69,338.17 492.02,338.04 493.36,337.91 494.69,337.77 496.03,337.64 497.36,337.5 498.7,337.36 500.03,337.22 501.37,337.08 502.7,336.93 504.04,336.79 505.37,336.64 506.7,336.49 508.04,336.35 509.37,336.19 510.7,336.04 512.04,335.89 513.37,335.73 514.7,335.58 516.04,335.42 517.37,335.26 518.7,335.1 520.03,334.94 521.37,334.77 522.7,334.61 524.03,334.44 525.36,334.28 526.69,334.11 528.02,333.94 529.35,333.77 530.69,333.6 532.02,333.42 533.35,333.25 534.68,333.07 536.01,332.89 537.34,332.72 538.67,332.54 540,332.36 541.33,332.17 542.66,331.99 543.99,331.81 545.32,331.62 546.65,331.43 547.98,331.25 549.3,331.06 550.63,330.87 551.96,330.68 553.29,330.49 554.62,330.29 555.95,330.1 557.27,329.9 558.6,329.71 559.93,329.51 561.26,329.31 562.59,329.11 563.91,328.91 565.24,328.71 566.57,328.51 567.9,328.3 569.22,328.1 570.55,327.89 571.88,327.69 573.2,327.48 574.53,327.27 575.85,327.06 577.18,326.85 578.51,326.64 579.83,326.43 581.16,326.22 582.48,326.01 583.81,325.79 585.13,325.58 586.46,325.36 587.79,325.15 589.11,324.93 590.44,324.71 591.76,324.49 593.08,324.27 594.41,324.05 595.73,323.83 597.06,323.61 598.38,323.39 599.71,323.16 601.03,322.94 602.35,322.71 603.68,322.49 605,322.26 606.32,322.03 607.65,321.81 608.97,321.58 610.29,321.35 611.62,321.12 612.94,320.89 614.26,320.66 615.59,320.43 616.91,320.2 618.23,319.97 619.55,319.73 620.88,319.5 622.2,319.27 623.52,319.03 624.84,318.8 626.16,318.56 627.49,318.32 628.81,318.09 630.13,317.85 631.45,317.61 632.77,317.38 634.09,317.14 635.41,316.9 636.74,316.66 638.06,316.42 639.38,316.18 640.7,315.94 642.02,315.7 643.34,315.46 644.66,315.22 645.98,314.97 647.3,314.73 648.62,314.49 649.94,314.25 651.26,314 652.58,313.76 653.9,313.52 655.22,313.27 656.54,313.03 657.86,312.78 659.18,312.54 660.5,312.3" fill="none" stroke="#ff1a40" stroke-width="1.1" stroke-linejoin="round" />
<rect x="259.5" y="222.5" width="401" height="161" fill="none" stroke="#888888" stroke-width="1"/>
<text x="0" y="430.5" font-size="16" text-anchor="start" fill="#000" >f</text>
<line x1="40.5" y1="591" x2="40.5" y2="588" stroke="#888888" stroke-width="1.2" />
<line x1="143.83" y1="591" x2="143.83" y2="588" stroke="#888888" stroke-width="1.2" />
<line x1="247.17" y1="591" x2="247.17" y2="588" stroke="#888888" stroke-width="1.2" />
<line x1="350.5" y1="591" x2="350.5" y2="588" stroke="#888888" stroke-width="1.2" />
<line x1="453.83" y1="591" x2="453.83" y2="588" stroke="#888888" stroke-width="1.2" />
<line x1="557.17" y1="591" x2="557.17" y2="588" stroke="#888888" stroke-width="1.2" />
<line x1="660.5" y1="591" x2="660.5" y2="588" stroke="#888888" stroke-width="1.2" />
<line x1="92.17" y1="591" x2="92.17" y2="589.3" stroke="#888888" stroke-width="1.2" />
<line x1="195.5" y1="591" x2="195.5" y2="589.3" stroke="#888888" stroke-width="1.2" />
<line x1="298.83" y1="591" x2="298.83" y2="589.3" stroke="#888888" stroke-width="1.2" />
<line x1="402.17" y1="591" x2="402.17" y2="589.3" stroke="#888888" stroke-width="1.2" />
<line x1="505.5" y1="591" x2="505.5" y2="589.3" stroke="#888888" stroke-width="1.2" />
<line x1="608.83" y1="591" x2="608.83" y2="589.3" stroke="#888888" stroke-width="1.2" />
<line x1="40.5" y1="590.6" x2="43.5" y2="590.6" stroke="#888888" stroke-width="1.2" />
<line x1="40.5" y1="563.7" x2="43.5" y2="563.7" stroke="#888888" stroke-width="1.2" />
<line x1="40.5" y1="536.8" x2="43.5" y2="536.8" stroke="#888888" stroke-width="1.2" />
<line x1="40.5" y1="509.9" x2="43.5" y2="509.9" stroke="#888888" stroke-width="1.2" />
<line x1="40.5" y1="483" x2="43.5" y2="483" stroke="#888888" stroke-width="1.2" />
<line x1="40.5" y1="456.1" x2="43.5" y2="456.1" stroke="#888888" stroke-width="1.2" />
<line x1="40.5" y1="429.2" x2="43.5" y2="429.2" stroke="#888888" stroke-width="1.2" />
<line x1="40.5" y1="577.15" x2="42.2" y2="577.15" stroke="#888888" stroke-width="1.2" />
<line x1="40.5" y1="550.25" x2="42.2" y2="550.25" stroke="#888888" stroke-width="1.2" />
<line x1="40.5" y1="523.35" x2="42.2" y2="523.35" stroke="#888888" stroke-width="1.2" />
<line x1="40.5" y1="496.45" x2="42.2" y2="496.45" stroke="#888888" stroke-width="1.2" />
<line x1="40.5" y1="469.55" x2="42.2" y2="469.55" stroke="#888888" stroke-width="1.2" />
<line x1="40.5" y1="442.65" x2="42.2" y2="442.65" stroke="#888888" stroke-width="1.2" />
<text x="40.5" y="600.2" font-size="8.2" text-anchor="middle" fill="#111" stroke="#333" stroke-width="0.1">0</text>
<text x="143.83" y="600.2" font-size="8.2" text-anchor="middle" fill="#111" stroke="#333" stroke-width="0.1">20</text>
<text x="247.17" y="600.2" font-size="8.2" text-anchor="middle" fill="#111" stroke="#333" stroke-width="0.1">40</text>
<text x="350.5" y="600.2" font-size="8.2" text-anchor="middle" fill="#111" stroke="#333" stroke-width="0.1">60</text>
<text x="453.83" y="600.2" font-size="8.2" text-anchor="middle" fill="#111" stroke="#333" stroke-width="0.1">80</text>
<text x="557.17" y="600.2" font-size="8.2" text-anchor="middle" fill="#111" stroke="#333" stroke-width="0.1">100</text>
<text x="660.5" y="600.2" font-size="8.2" text-anchor="middle" fill="#111" stroke="#333" stroke-width="0.1">120</text>
<text x="32.2" y="592.8" font-size="8.2" text-anchor="end" fill="#111" stroke="#333" stroke-width="0.1">0.0</text>
<text x="32.2" y="565.9" font-size="8.2" text-anchor="end" fill="#111" stroke="#333" stroke-width="0.1">0.5</text>
<text x="32.2" y="539" font-size="8.2" text-anchor="end" fill="#111" stroke="#333" stroke-width="0.1">1.0</text>
<text x="32.2" y="512.1" font-size="8.2" text-anchor="end" fill="#111" stroke="#333" stroke-width="0.1">1.5</text>
<text x="32.2" y="485.2" font-size="8.2" text-anchor="end" fill="#111" stroke="#333" stroke-width="0.1">2.0</text>
<text x="32.2" y="458.3" font-size="8.2" text-anchor="end" fill="#111" stroke="#333" stroke-width="0.1">2.5</text>
<text x="32.2" y="431.4" font-size="8.2" text-anchor="end" fill="#111" stroke="#333" stroke-width="0.1">3.0</text>
<text x="350.5" y="614.8" font-size="11.6" text-anchor="middle" fill="#111" >Time (h)</text>
<text transform="translate(14.2,510) rotate(-90)" font-size="11" text-anchor="middle" fill="#111"><tspan font-style="italic">E</tspan><tspan font-size="7" dy="2.6">cell</tspan><tspan dy="-2.6"> (V)</tspan></text>
<rect x="40.5" y="429.5" width="620.0" height="161.5" fill="none" stroke="#888888" stroke-width="1"/>
<line x1="40.5" y1="429.5" x2="40.5" y2="591" stroke="#222" stroke-width="1" />
<line x1="34" y1="514.3" x2="49.7" y2="514.3" stroke="#f7b0b6" stroke-width="3" />
<defs><linearGradient id="gred" gradientUnits="userSpaceOnUse" x1="40" y1="0" x2="660" y2="0"><stop offset="0" stop-color="#f6a4ad"/><stop offset="0.3" stop-color="#f37a88"/><stop offset="1" stop-color="#f0485c"/></linearGradient></defs>
<polyline points="40.5,513 200,512.6 300,511.2 360,510.6 470,510 560,509.6 660.5,509.2" fill="none" stroke="url(#gred)" stroke-width="3.4" stroke-linejoin="round" />
<polyline points="40.5,513 200,512.6 300,511.2 360,510.6 470,510 560,509.6 660.5,509.2" fill="none" stroke="#f8c4ca" stroke-width="1.3" stroke-linejoin="round" stroke-dasharray="3.6,1.2"/>
<line x1="40.5" y1="513.2" x2="660.5" y2="513.2" stroke="#222" stroke-width="1.6" stroke-dasharray="3,1.8"/>
<polyline points="40.5,510.4 43,508 45.5,506.8 80,506.6 105,506.4 110,505.6 150,504 175,503 194.5,502 198,499.5 201,494 204,489 207,484 211,481.5 225,481 237,480.6 240,479.5 242,474 245,460 247,448 250,430" fill="none" stroke="#3a4ec2" stroke-width="2" stroke-linejoin="round" stroke-dasharray="6,2.3"/>
<polyline points="40.5,505 41.5,501.9 48.5,500.1 51.5,498.1 53.1,494.2 54.3,486.5 55.4,481.9 60,482.7 63.1,480.4 64.6,477.3 65.1,471.2 65.4,460.4 66.2,448.1 66.6,434.2" fill="none" stroke="#383838" stroke-width="2.3" stroke-linejoin="round" stroke-dasharray="5,2"/>
<text x="69.7" y="474" font-size="8.5" text-anchor="start" fill="#111" >RuO<tspan font-size="5" dy="1.8">2</tspan></text>
<text x="208" y="474.4" font-size="8.5" text-anchor="start" fill="#111" >B-RuO<tspan font-size="5" dy="1.8">2</tspan></text>
<text x="298" y="503.6" font-size="9.6" text-anchor="start" fill="#111" >200 mA cm<tspan font-size="5.6" dy="-3.4">-2</tspan><tspan dy="3.4"> on PEMWE</tspan></text>
<text x="331" y="526.4" font-size="8.2" text-anchor="start" fill="#111" >Ta/B-RuO<tspan font-size="5.4" dy="2">2</tspan></text>
<text x="16.2" y="222.5" font-size="16" text-anchor="start" fill="#000" >d</text>
<clipPath id="clipd"><rect x="35.5" y="221" width="175.5" height="162.6"/></clipPath>
<defs><linearGradient id="gbg" x1="0" y1="0" x2="0" y2="1"><stop offset="0" stop-color="#83827e"/><stop offset="0.4" stop-color="#92918d"/><stop offset="0.7" stop-color="#a7a7a4"/><stop offset="1" stop-color="#b3b3b1"/></linearGradient><linearGradient id="gl" x1="0" y1="0" x2="1" y2="0"><stop offset="0" stop-color="#d8d8d6" stop-opacity="0.9"/><stop offset="1" stop-color="#d8d8d6" stop-opacity="0"/></linearGradient><filter id="blur1"><feGaussianBlur stdDeviation="2.5"/></filter></defs>
<g clip-path="url(#clipd)">
<rect x="35.5" y="221" width="175.5" height="162.6" fill="url(#gbg)"/>
<rect x="35.5" y="221" width="2.5" height="162.6" fill="url(#gl)"/>
<g filter="url(#blur1)" opacity="0.35">
<polygon points="62,350 82,350 90,356 68,358" fill="#555" />
<polygon points="85,330 99,342 120,330 100,318" fill="#666" />
<polygon points="150,305 182,326 205,326 200,310" fill="#555" />
</g>
<polygon points="49.9,241.8 56.7,250.5 63.4,351.5 53.7,343.7" fill="#978672" />
<polygon points="56.7,250.5 75.1,251.5 79,349.6 63.4,351.5" fill="#84623e" />
<polygon points="49.9,241.8 70.2,247.6 75.1,251.5 56.7,250.5" fill="#a3805a" />
<line x1="72.6" y1="253" x2="76.4" y2="347" stroke="#94734c" stroke-width="1.2" />
<rect x="36.5" y="254.5" width="9" height="9.5" rx="2" fill="#bde24c"/>
<rect x="44" y="252.5" width="9.5" height="13.5" rx="2" fill="#aad63c"/>
<rect x="43" y="318.5" width="9" height="10" rx="2" fill="#bde24c"/>
<rect x="50.5" y="316.5" width="9.5" height="14" rx="2" fill="#aad63c"/>
<polygon points="59.6,231.4 62.1,231.4 62.3,245.6 59.8,245.6" fill="#d6c442" />
<polygon points="61.2,231.4 62.1,231.4 62.3,245.6 61.4,245.6" fill="#b8a634" />
<polygon points="79.1,244.3 97,251.9 99.6,339.6 98.4,339.6 81.7,320" fill="#50c2c6" />
<polygon points="79.1,244.3 97,251.9 97,253.4 79.3,246" fill="#6fd6d8" />
<polygon points="96,251.5 97.2,252 99.6,339.6 98.6,339.4" fill="#3aa3a8" />
<polygon points="84.6,268.1 91,271.5 91.9,311.5 84.6,300" fill="#9d9d9a" />
<polygon points="84.6,268.1 84.6,300 86,301.5 85.9,268.8" fill="#3b9ca0" />
<polygon points="99.2,265.2 109.7,271.5 110.6,309.8 100.2,300.4" fill="#878c8d" />
<polygon points="99.2,265.2 100.3,265.6 101.2,300.9 100.2,300.4" fill="#a9aeae" />
<polygon points="112.8,268.5 123,272.5 123.2,302.8 114,298.8" fill="#232323" />
<polygon points="122.1,259.3 138.4,265.9 138.4,310.7 123.4,305.4" fill="#aebfc3" opacity="0.95"/>
<polygon points="135.4,264.7 138.4,265.9 138.4,310.7 136,309.5" fill="#6fb3c0" />
<polygon points="137.9,268.5 147.1,271.7 147.1,300.2 139.2,297.5" fill="#242424" />
<rect x="177.2" y="228.7" width="7.7" height="11.5" fill="#d6ca42"/>
<ellipse cx="180.9" cy="234.4" rx="1.5" ry="2.5" fill="#8c8652"/>
<rect x="179.4" y="234.4" width="3" height="4.4" fill="#8c8652"/>
<polygon points="196.7,242.5 208.3,243.6 202.2,323.5 191.1,325" fill="#80623f" />
<polygon points="198.5,243 200.5,243.2 194.5,324.6 192.8,324.8" fill="#8f7049" />
<polygon points="160,241 196.7,244.4 191.1,325 181,324" fill="#5a5a41" />
<polygon points="160,238.2 165,236.6 197.5,240.3 208.3,243.6 196.7,244.6 160,241.2" fill="#a3865f" />
<circle cx="185.8" cy="256.2" r="1.5" fill="#1e1e1e"/>
<rect x="207.6" y="250.6" width="5" height="8.2" rx="2" fill="#aad63c"/>
<polygon points="149.8,242.1 185.4,248.7 181.4,324 148.5,300.2" fill="#52c6c8" />
<polygon points="157.7,260.6 173.5,264.5 173.5,300.2 159,296.2" fill="#7a6a4c" />
<polygon points="162.5,267 171.5,269.2 171.5,274.5 162.5,272.3" fill="#5b5a48" />
<polygon points="162.5,275.5 171.5,277.7 171.5,283 162.5,280.8" fill="#5b5a48" />
<polygon points="162.5,284 171.5,286.2 171.5,291.5 162.5,289.3" fill="#5b5a48" />
<circle cx="162.8" cy="292.4" r="1.6" fill="#1c1c1c"/>
<polygon points="145.8,261.9 161.6,267.2 161.1,302.8 147.1,297.5" fill="#252525" />
<text x="41.6" y="247.3" font-size="9.3" text-anchor="start" fill="#f4f4f4" >O<tspan font-size="5.6" dy="2">2</tspan></text>
<text x="97" y="242.3" font-size="9.3" text-anchor="start" fill="#f4f4f4" >Anode</text>
<text x="130" y="242.3" font-size="9.3" text-anchor="start" fill="#f4f4f4" >Cathode</text>
<text x="196" y="244" font-size="9.3" text-anchor="start" fill="#f4f4f4" >H<tspan font-size="5.6" dy="2">2</tspan></text>
<text x="123.4" y="333" font-size="9.3" text-anchor="start" fill="#f4f4f4" >PEM</text>
<text x="37.6" y="345.1" font-size="9.3" text-anchor="start" fill="#f4f4f4" >Electrolyte</text>
<text x="163" y="366" font-size="9.3" text-anchor="start" fill="#f4f4f4" >Gasket</text>
<line x1="117.5" y1="245" x2="117.5" y2="267.5" stroke="#e6e6e6" stroke-width="0.9" />
<polygon points="116.2,264.9 118.8,264.9 117.5,267.5" fill="#f4f4f4" />
<line x1="142.5" y1="245" x2="142.5" y2="264.5" stroke="#e6e6e6" stroke-width="0.9" />
<polygon points="141.2,261.9 143.8,261.9 142.5,264.5" fill="#f4f4f4" />
<line x1="131.5" y1="324" x2="131.5" y2="309.5" stroke="#e6e6e6" stroke-width="0.9" />
<polygon points="130.2,312.1 132.8,312.1 131.5,309.5" fill="#f4f4f4" />
<line x1="176.5" y1="357" x2="176.5" y2="325.5" stroke="#e6e6e6" stroke-width="0.9" />
<polygon points="175.2,328.1 177.8,328.1 176.5,325.5" fill="#f4f4f4" />
</g>
</svg></body></html>
